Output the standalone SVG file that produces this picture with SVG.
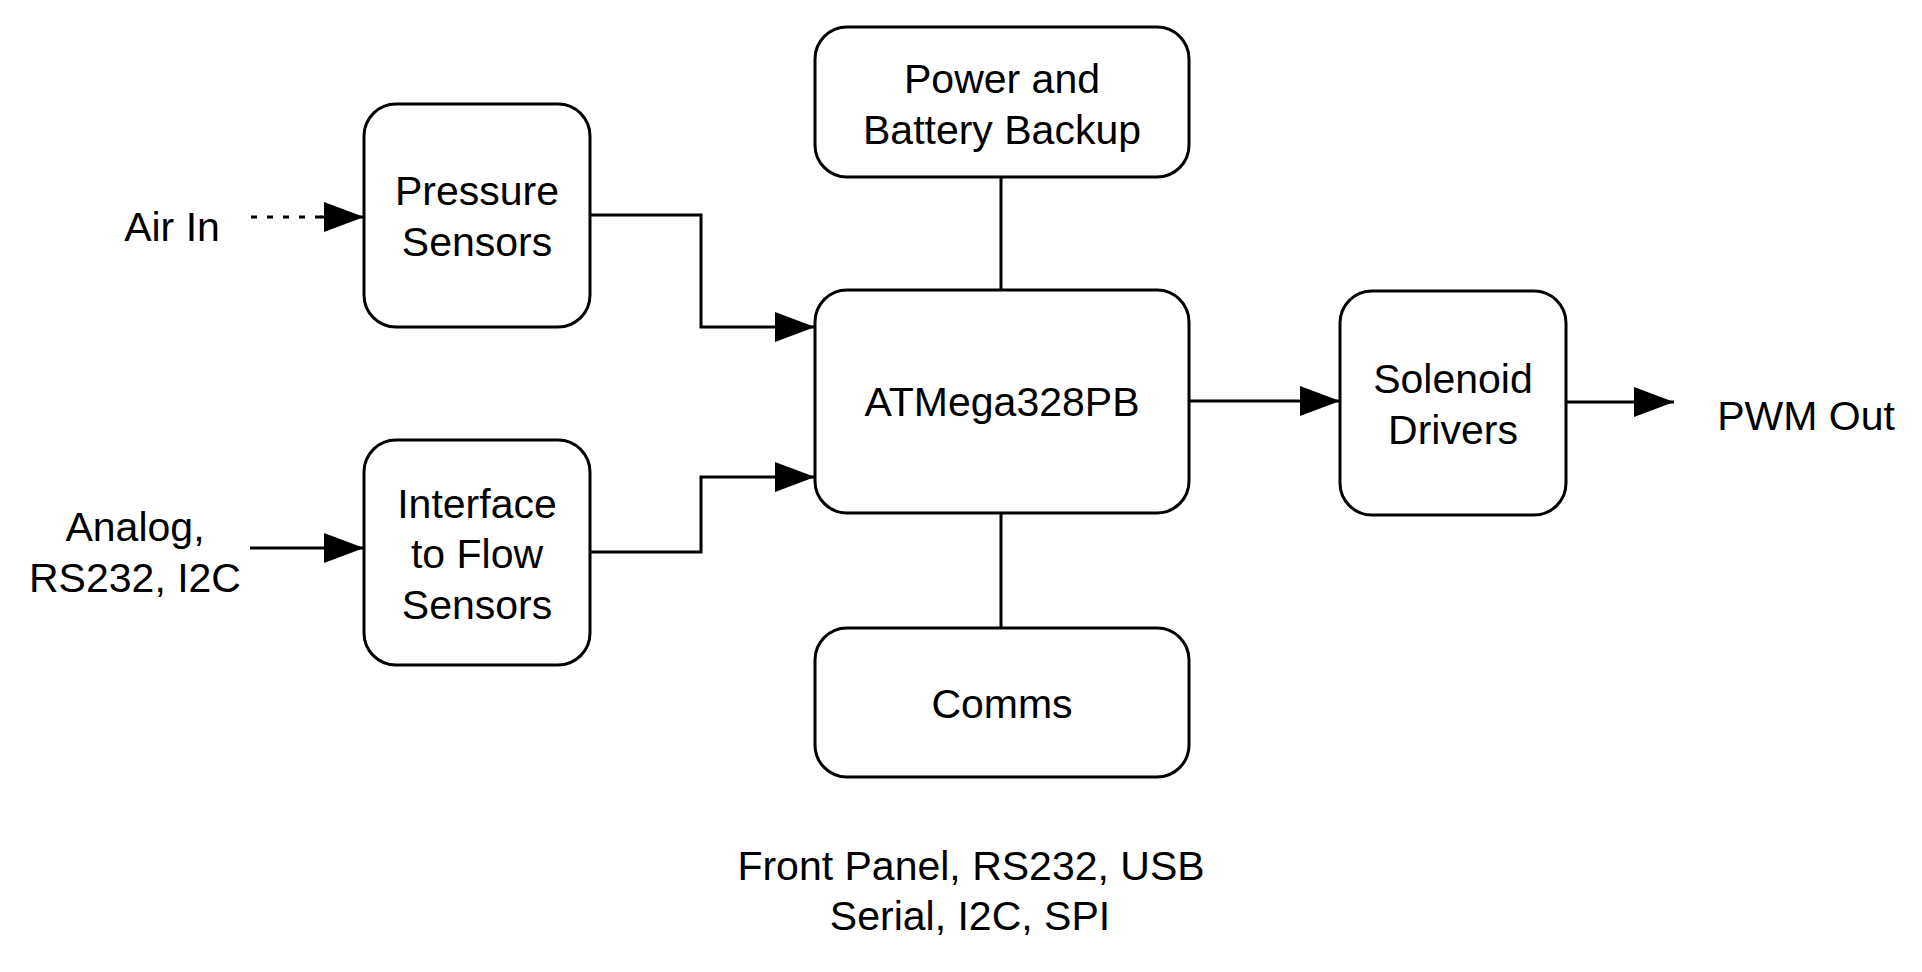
<svg xmlns="http://www.w3.org/2000/svg" width="1922" height="972" viewBox="0 0 1922 972">
<style>
.box{fill:#fff;stroke:#000;stroke-width:3}
.t{font-family:"Liberation Sans",Arial,Helvetica,sans-serif;font-size:41px;fill:#000;text-anchor:middle}
.c{fill:none;stroke:#000;stroke-width:3}
.d{fill:none;stroke:#000;stroke-width:3;stroke-dasharray:6 10}
</style>
<defs>
<marker id="ah" markerUnits="userSpaceOnUse" markerWidth="40" markerHeight="30" refX="40" refY="15" orient="auto" viewBox="0 0 40 30">
<polygon points="0,0 40,15 0,30" fill="#000"/>
</marker>
</defs>
<rect width="1922" height="972" fill="#fff"/>
<g id="connectors">
<line class="d" x1="251" y1="217" x2="326" y2="217"/>
<line class="c" x1="320" y1="217" x2="364" y2="217" marker-end="url(#ah)"/>
<line class="c" x1="250" y1="548" x2="364" y2="548" marker-end="url(#ah)"/>
<polyline class="c" points="590,215 701,215 701,327 815,327" marker-end="url(#ah)"/>
<polyline class="c" points="590,552 701,552 701,477 815,477" marker-end="url(#ah)"/>
<line class="c" x1="1001" y1="178" x2="1001" y2="290"/>
<line class="c" x1="1001" y1="513" x2="1001" y2="628"/>
<line class="c" x1="1189" y1="401" x2="1340" y2="401" marker-end="url(#ah)"/>
<line class="c" x1="1566" y1="402" x2="1674" y2="402" marker-end="url(#ah)"/>
</g>
<g id="pressure">
<rect class="box" x="364" y="104" width="226" height="223" rx="32"/>
<text class="t" x="477" y="205">Pressure</text>
<text class="t" x="477" y="256">Sensors</text>
</g>
<g id="interface">
<rect class="box" x="364" y="440" width="226" height="225" rx="32"/>
<text class="t" x="477" y="518">Interface</text>
<text class="t" x="477" y="568">to Flow</text>
<text class="t" x="477" y="619">Sensors</text>
</g>
<g id="power">
<rect class="box" x="815" y="27" width="374" height="150" rx="32"/>
<text class="t" x="1002" y="93">Power and</text>
<text class="t" x="1002" y="144">Battery Backup</text>
</g>
<g id="atmega">
<rect class="box" x="815" y="290" width="374" height="223" rx="32"/>
<text class="t" x="1002" y="416">ATMega328PB</text>
</g>
<g id="comms">
<rect class="box" x="815" y="628" width="374" height="149" rx="32"/>
<text class="t" x="1002" y="718">Comms</text>
</g>
<g id="solenoid">
<rect class="box" x="1340" y="291" width="226" height="224" rx="32"/>
<text class="t" x="1453" y="393">Solenoid</text>
<text class="t" x="1453" y="444">Drivers</text>
</g>
<g id="labels">
<text class="t" x="172" y="241">Air In</text>
<text class="t" x="135" y="541">Analog,</text>
<text class="t" x="135" y="592">RS232, I2C</text>
<text class="t" x="1806" y="430">PWM Out</text>
<text class="t" x="971" y="880">Front Panel, RS232, USB</text>
<text class="t" x="970" y="930">Serial, I2C, SPI</text>
</g>
</svg>
